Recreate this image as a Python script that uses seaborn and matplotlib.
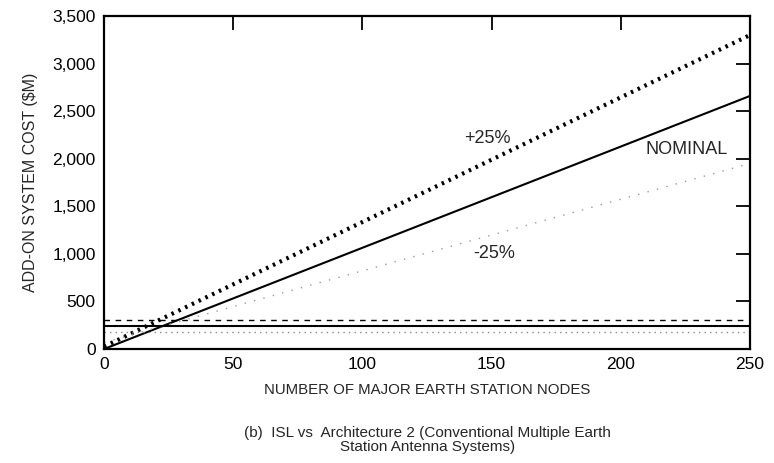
import matplotlib
matplotlib.use("Agg")
import matplotlib.pyplot as plt
import seaborn as sns
import pandas as pd

sns.set_theme(style="white")
plt.rcParams['font.family'] = ['Liberation Sans', 'DejaVu Sans']

# Data
nodes = [0, 250]
plus25 = [25, 3300]
nominal = [0, 2660]
minus25 = [70, 1950]
h_dashed = [300, 300]
h_solid = [240, 240]
h_dotted = [175, 175]

x_ticks = [0, 50, 100, 150, 200, 250]
y_ticks = [0, 500, 1000, 1500, 2000, 2500, 3000, 3500]
y_tick_labels = ["0", "500", "1,000", "1,500", "2,000", "2,500", "3,000", "3,500"]

df = pd.DataFrame({"nodes": nodes, "plus25": plus25, "nominal": nominal,
                   "minus25": minus25, "hd": h_dashed, "hs": h_solid, "hp": h_dotted})

fig = plt.figure(figsize=(7.74, 4.63), dpi=100)
ax = fig.add_axes([0.1344, 0.2462, 0.8346, 0.7192])

sns.lineplot(data=df, x="nodes", y="plus25", ax=ax, color="black", lw=3.0,
             linestyle=(0, (0.6, 1.2)))
sns.lineplot(data=df, x="nodes", y="nominal", ax=ax, color="black", lw=1.5)
sns.lineplot(data=df, x="nodes", y="minus25", ax=ax, color="#9a9a9a", lw=1.0,
             linestyle=(0, (1, 6)))
sns.lineplot(data=df, x="nodes", y="hd", ax=ax, color="black", lw=1.0,
             linestyle=(0, (4, 4)))
sns.lineplot(data=df, x="nodes", y="hs", ax=ax, color="black", lw=1.5)
sns.lineplot(data=df, x="nodes", y="hp", ax=ax, color="#8a8a8a", lw=1.0,
             linestyle=(0, (1, 3)))

ax.set_xlim(0, 250)
ax.set_ylim(0, 3500)
ax.set_xticks(x_ticks)
ax.set_xticklabels([str(v) for v in x_ticks])
ax.set_yticks(y_ticks)
ax.set_yticklabels(y_tick_labels)
ax.tick_params(direction="in", length=10, width=1.3, top=True, right=True,
               labelsize=12.5, colors="black", pad=6)
for s in ax.spines.values():
    s.set_visible(True)
    s.set_color("black")
    s.set_linewidth(1.6)

ax.set_xlabel("NUMBER OF MAJOR EARTH STATION NODES", fontsize=10.8, labelpad=8)
ax.set_ylabel("ADD-ON SYSTEM COST ($M)", fontsize=11.5, labelpad=10)

ax.text(148.5, 2210, "+25%", fontsize=13, ha="center", va="center")
ax.text(225.5, 2100, "NOMINAL", fontsize=13, ha="center", va="center")
ax.text(151, 1000, "-25%", fontsize=13, ha="center", va="center")

fig.text(0.552, 0.05, "(b)  ISL vs  Architecture 2 (Conventional Multiple Earth\nStation Antenna Systems)",
         fontsize=11, ha="center", va="center", linespacing=1.05, multialignment="center")

fig.savefig("out.png", dpi=100)
